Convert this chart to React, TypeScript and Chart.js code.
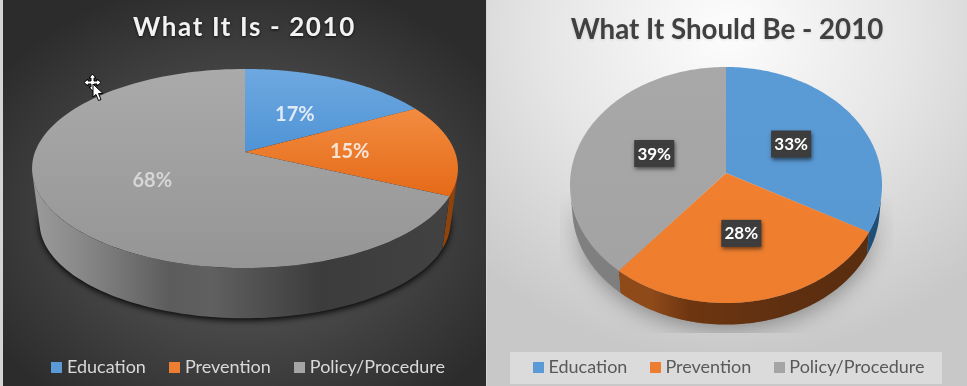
import React, { useEffect, useRef } from "react";
import { Chart, registerables } from "chart.js";

Chart.register(...registerables);

const categories = ["Education", "Prevention", "Policy/Procedure"];
const whatItIs = [17, 15, 68];
const whatItShouldBe = [33, 28, 39];
const legendColors = ["#5b9bd5", "#ed7d31", "#a5a5a5"];

type Stop = [number, string];
type View = {
  title: string;
  values: number[];
  cx: number; cy: number; a: number; b: number; k: number;
  s: number; cyBottom: number;
  faces: [string, string][];
  faceSpan: [number, number][];
  sides: Stop[][];
};

const leftView: View = {
  title: "What It Is - 2010",
  values: whatItIs,
  cx: 242, cy: 152, a: 210, b: 96.8, k: 0.1658, s: 0.965, cyBottom: 206.3,
  faces: [["#6ea8e0", "#4f94d6"], ["#f28c40", "#e56a18"], ["#aaaaaa", "#959595"]],
  faceSpan: [[69, 152], [109, 196], [69, 268]],
  sides: [
    [[0, "#2f5f8f"], [1, "#2f5f8f"]],
    [[0, "#a64f10"], [1, "#8f430c"]],
    [[0.0, "#9a9a9a"], [0.1, "#8a8a8a"], [0.2, "#767676"], [0.32, "#5c5c5c"], [0.42, "#606060"], [0.68, "#3c3c3c"], [1, "#424242"]],
  ],
};

const rightView: View = {
  title: "What It Should Be - 2010",
  values: whatItShouldBe,
  cx: 239, cy: 173, a: 155.2, b: 116.8, k: 0.1017, s: 0.985, cyBottom: 196.5,
  faces: [["#5b9bd5", "#5898d3"], ["#f0802f", "#ee7d2e"], ["#a8a8a8", "#a3a3a3"]],
  faceSpan: [[67, 232], [173, 303], [67, 270]],
  sides: [
    [[0, "#1f4e79"], [1, "#1f4e79"]],
    [[0.26, "#8f4a1a"], [0.38, "#6e3610"], [0.7, "#5e2f10"], [1, "#5a2d0f"]],
    [[0, "#808080"], [1, "#767676"]],
  ],
};

function project(v: View, angle: number, r: number, bottom: boolean) {
  const u = r * Math.cos(angle);
  const w = r * Math.sin(angle);
  const d = 1 - v.k * w;
  const s = bottom ? v.s : 1;
  return {
    x: v.cx + (s * v.a * u) / d,
    y: (bottom ? v.cyBottom : v.cy) + (s * v.b * w) / d,
  };
}

function tracePie(ctx: CanvasRenderingContext2D, v: View, bottom: boolean) {
  ctx.beginPath();
  for (let i = 0; i <= 180; i++) {
    const p = project(v, (i / 180) * Math.PI * 2, 1, bottom);
    if (i === 0) ctx.moveTo(p.x, p.y);
    else ctx.lineTo(p.x, p.y);
  }
  ctx.closePath();
}

const pie3d = (v: View, dark: boolean) => ({
  id: "pie3d",
  beforeDraw(chart: any) {
    const ctx = chart.ctx as CanvasRenderingContext2D;
    if (!dark) {
      ctx.save();
      ctx.fillStyle = "rgba(255,255,255,0.34)";
      ctx.fillRect(23, 352, 432, 32);
      ctx.restore();
    }
    const tb = chart.titleBlock;
    if (tb && !tb.__patched) {
      const orig = tb.draw.bind(tb);
      tb.draw = () => {
        ctx.save();
        (ctx as any).letterSpacing = dark ? "1.6px" : "0px";
        ctx.shadowColor = dark ? "rgba(0,0,0,0.75)" : "rgba(0,0,0,0.12)";
        ctx.shadowBlur = 3;
        ctx.shadowOffsetY = 1;
        orig();
        ctx.restore();
      };
      tb.__patched = true;
    }
    const lg = chart.legend;
    if (lg && !lg.__patched) {
      const orig = lg.draw.bind(lg);
      lg.draw = () => {
        ctx.save();
        ctx.translate(dark ? 6 : 4, 2);
        orig();
        ctx.restore();
      };
      lg.__patched = true;
    }
  },
  beforeDatasetDraw(chart: any) {
    const ctx = chart.ctx as CanvasRenderingContext2D;
    const arcs = chart.getDatasetMeta(0).data as any[];

    // cast shadow
    ctx.save();
    if (dark) {
      ctx.shadowColor = "rgba(0,0,0,0.95)";
      ctx.shadowBlur = 6;
      ctx.shadowOffsetY = 2;
      tracePie(ctx, v, true);
      ctx.fillStyle = "#111";
      ctx.fill();
    } else {
      const off = document.createElement("canvas");
      off.width = chart.width;
      off.height = chart.height;
      const o = off.getContext("2d")!;
      o.beginPath();
      o.rect(73, 190, 333, 143);
      o.clip();
      o.shadowColor = "rgba(0,0,0,0.36)";
      o.shadowBlur = 22;
      o.shadowOffsetY = 4;
      tracePie(o, v, true);
      o.fillStyle = "#888";
      o.fill();
      o.shadowColor = "transparent";
      o.globalCompositeOperation = "destination-in";
      const m = o.createLinearGradient(0, 190, 0, 265);
      m.addColorStop(0, "rgba(0,0,0,0)");
      m.addColorStop(1, "rgba(0,0,0,1)");
      o.fillStyle = m;
      o.fillRect(0, 0, off.width, off.height);
      ctx.drawImage(off, 0, 0);
    }
    ctx.restore();

    // side walls: front-facing rim quads joined in one path, so no seams show
    arcs.forEach((arc, i) => {
      const g = ctx.createLinearGradient(v.cx - v.a, 0, v.cx + v.a, 0);
      v.sides[i].forEach(([o, c]) => g.addColorStop(o, c));
      const n = 150;
      ctx.beginPath();
      for (let j = 0; j < n; j++) {
        const t0 = arc.startAngle + ((arc.endAngle - arc.startAngle) * j) / n;
        const t1 = arc.startAngle + ((arc.endAngle - arc.startAngle) * (j + 1)) / n;
        const a0 = project(v, t0, 1, false);
        const a1 = project(v, t1, 1, false);
        const b1 = project(v, t1, 1, true);
        const b0 = project(v, t0, 1, true);
        const cross = (a1.x - a0.x) * (b0.y - a0.y) - (a1.y - a0.y) * (b0.x - a0.x);
        if (cross >= 0) continue;
        ctx.moveTo(a0.x, a0.y);
        ctx.lineTo(a1.x, a1.y);
        ctx.lineTo(b1.x, b1.y);
        ctx.lineTo(b0.x, b0.y);
        ctx.closePath();
      }
      ctx.fillStyle = g;
      ctx.fill();
    });

    // top faces
    arcs.forEach((arc, i) => {
      const g = ctx.createLinearGradient(0, v.faceSpan[i][0], 0, v.faceSpan[i][1]);
      g.addColorStop(0, v.faces[i][0]);
      g.addColorStop(1, v.faces[i][1]);
      const n = 120;
      const c = project(v, 0, 0, false);
      ctx.beginPath();
      ctx.moveTo(c.x, c.y);
      for (let j = 0; j <= n; j++) {
        const t = arc.startAngle + ((arc.endAngle - arc.startAngle) * j) / n;
        const p = project(v, t, 1, false);
        ctx.lineTo(p.x, p.y);
      }
      ctx.closePath();
      ctx.fillStyle = g;
      ctx.fill();
    });
    return false;
  },
  afterDatasetsDraw(chart: any) {
    const ctx = chart.ctx as CanvasRenderingContext2D;
    const arcs = chart.getDatasetMeta(0).data as any[];
    arcs.forEach((arc, i) => {
      const mid = (arc.startAngle + arc.endAngle) / 2;
      const p = project(v, mid, 0.5, false);
      const text = `${v.values[i]}%`;
      ctx.save();
      ctx.textAlign = "center";
      ctx.textBaseline = "middle";
      if (dark) {
        ctx.font = "700 20px Lato";
        ctx.fillStyle = i === 2 ? "#d6d6d6" : i === 0 ? "#dfeaf6" : "#f5e3d4";
        ctx.fillText(text, p.x, p.y + 1);
      } else {
        const bw = 40, bh = 27;
        ctx.save();
        ctx.shadowColor = "rgba(0,0,0,0.55)";
        ctx.shadowBlur = 4;
        ctx.shadowOffsetX = 1;
        ctx.shadowOffsetY = 2;
        ctx.fillStyle = "#3c3c3c";
        ctx.fillRect(p.x - bw / 2, p.y - bh / 2, bw, bh);
        ctx.restore();
        ctx.fillStyle = "rgba(255,255,255,0.06)";
        for (let y = 2; y < bh; y += 4) {
          for (let x = 2 + (y % 8 === 2 ? 0 : 2); x < bw; x += 4) {
            ctx.fillRect(p.x - bw / 2 + x, p.y - bh / 2 + y, 1, 1);
          }
        }
        ctx.font = "700 17px Lato";
        ctx.fillStyle = "#ffffff";
        ctx.fillText(text, p.x, p.y + 0.5);
      }
      ctx.restore();
    });

    if (dark) {
      // stray mouse cursor captured in the screenshot
      ctx.save();
      ctx.translate(-3, 0);
      ctx.lineWidth = 1;
      ctx.strokeStyle = "#000";
      ctx.fillStyle = "#fff";
      const move = new Path2D(
        "M92.5 74 L96 78 L94 78 L94 81 L97 81 L97 79 L101 82.5 L97 86 L97 84 L94 84 L94 87 L96 87 L92.5 91 L89 87 L91 87 L91 84 L88 84 L88 86 L84 82.5 L88 79 L88 81 L91 81 L91 78 L89 78 Z"
      );
      ctx.fill(move);
      ctx.stroke(move);
      const arrow = new Path2D(
        "M93 84 L93 97 L96 94.5 L98.5 100.5 L101 99.5 L98.5 93.5 L103 93.5 Z"
      );
      ctx.fill(arrow);
      ctx.stroke(arrow);
      ctx.restore();
    }
  },
});

function swatch(color: string) {
  const c = document.createElement("canvas");
  c.width = 11;
  c.height = 11;
  const x = c.getContext("2d")!;
  x.fillStyle = color;
  x.fillRect(0, 0, 11, 11);
  return c;
}

function PieCanvas({ view, dark, width }: { view: View; dark: boolean; width: number }) {
  const ref = useRef<HTMLCanvasElement>(null);
  useEffect(() => {
    const textColor = dark ? "#d9d9d9" : "#595959";
    const chart = new Chart(ref.current!, {
      type: "pie",
      data: {
        labels: categories,
        datasets: [{ data: view.values, backgroundColor: legendColors, borderWidth: 0 }],
      },
      plugins: [pie3d(view, dark)],
      options: {
        responsive: false,
        animation: false,
        layout: { padding: { top: 0, bottom: 2, left: 0, right: 0 } },
        plugins: {
          tooltip: { enabled: false },
          title: {
            display: true,
            text: view.title,
            color: dark ? "#f2f2f2" : "#404040",
            font: { family: "Lato", size: dark ? 26 : 27.7, weight: "bold" },
            padding: { top: dark ? 12 : 13, bottom: 10 },
          },
          legend: {
            display: true,
            position: "bottom",
            labels: {
              color: textColor,
              font: { family: "Lato", size: 18 },
              usePointStyle: true,
              pointStyleWidth: 2,
              boxWidth: 2,
              boxHeight: 10,
              padding: dark ? 28 : 27,
              generateLabels: () =>
                categories.map((text, i) => ({
                  text,
                  fillStyle: legendColors[i],
                  strokeStyle: "transparent",
                  lineWidth: 0,
                  fontColor: textColor,
                  pointStyle: swatch(legendColors[i]) as any,
                  hidden: false,
                  index: i,
                })),
            },
          },
        },
      } as any,
    });
    return () => chart.destroy();
  }, [view, dark]);
  return <canvas ref={ref} width={width} height={386} style={{ display: "block", width, height: 386 }} />;
}

export default function App() {
  return (
    <div style={{ position: "fixed", left: 0, top: 0, width: 967, height: 386, background: "#d4d4d4", overflow: "hidden" }}>
      <div
        style={{
          position: "absolute", left: 3, top: 0, width: 483, height: 386,
          background: "radial-gradient(ellipse 62% 62% at 50% 55%, #585858 0%, #4a4a4a 45%, #2c2c2c 100%)",
        }}
      >
        <PieCanvas view={leftView} dark={true} width={483} />
      </div>
      <div
        style={{
          position: "absolute", left: 487, top: 0, width: 480, height: 386,
          background: "radial-gradient(ellipse 75% 85% at 50% 8%, #fdfdfd 0%, #e6e6e6 50%, #c8c8c8 100%)",
        }}
      >
        <PieCanvas view={rightView} dark={false} width={480} />
      </div>
    </div>
  );
}
